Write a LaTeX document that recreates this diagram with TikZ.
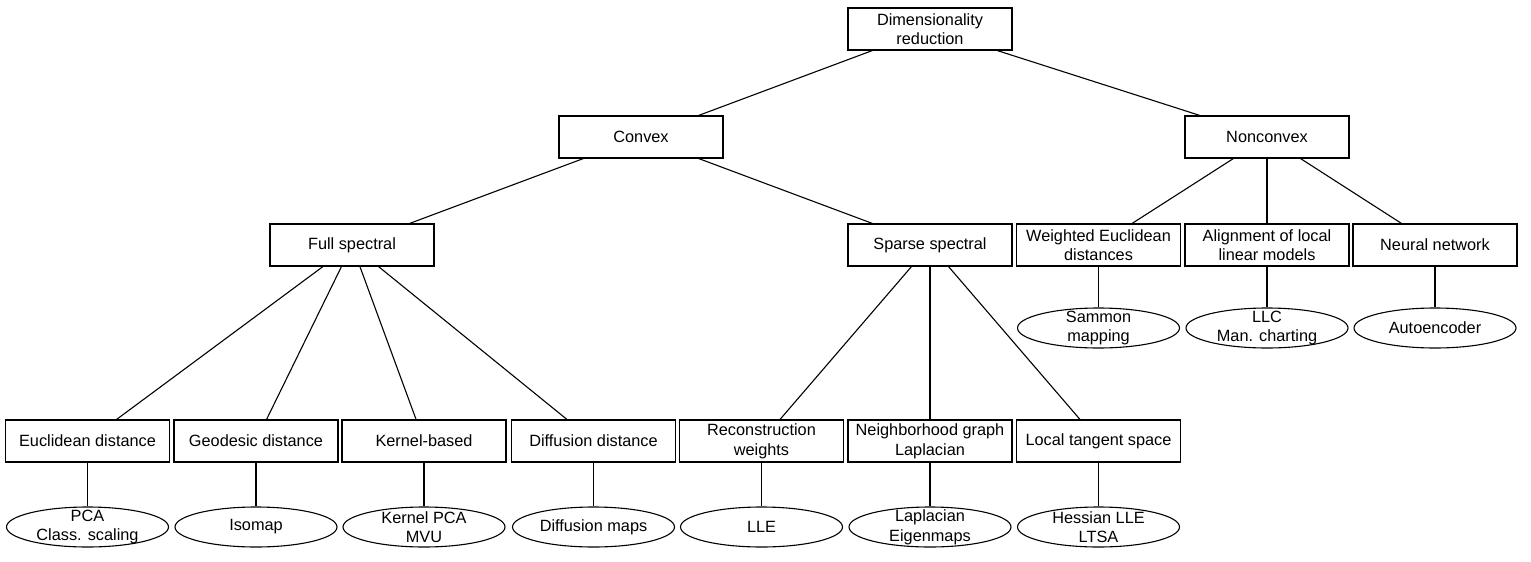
\documentclass[tikz,border=0pt]{standalone}
\usepackage{fontspec}
\setmainfont{Liberation Sans}
\usetikzlibrary{shapes.geometric}
\begin{document}
\begin{tikzpicture}[x=1pt,y=-1pt,
  txt/.style={font=\fontsize{16.3}{19.6}\selectfont},
  box/.style={draw, line width=1.1pt, minimum width=164pt, minimum height=42pt, inner sep=0pt, align=center, txt},
  leaf/.style={draw, ellipse, line width=1.1pt, minimum width=162pt, minimum height=40pt, inner sep=0pt},
  leaftext/.style={align=center, inner sep=0pt, txt},
  edge/.style={line width=1.1pt}]
\useasboundingbox (0,0) rectangle (1531,562);
% level 0-2
\node[box] (root) at (930,29) {Dimensionality\\reduction};
\node[box] (convex) at (641,137) {Convex};
\node[box] (nonconvex) at (1267,137) {Nonconvex};
\node[box] (full) at (352,245) {Full spectral};
\node[box] (sparse) at (930,245) {Sparse spectral};
\node[box] (weighted) at (1098.5,245) {Weighted Euclidean\\distances};
\node[box] (align) at (1267,245) {Alignment of local\\linear models};
\node[box] (neural) at (1435,245) {Neural network};
% level 3
\node[box] (euc) at (87.5,441) {Euclidean distance};
\node[box] (geo) at (256,441) {Geodesic distance};
\node[box] (kern) at (424,441) {Kernel-based};
\node[box] (diff) at (593.5,441) {Diffusion distance};
\node[box] (recon) at (761.5,441) {Reconstruction\\weights};
\node[box] (neigh) at (930,441) {Neighborhood graph\\Laplacian};
\node[box] (local) at (1098.5,441) {Local tangent space};
% leaves (nonconvex)
\node[leaf] (sammon) at (1098.5,328) {};
\node[leaftext] (sammont) at (sammon) {Sammon\\mapping};
\node[leaf] (llc) at (1267,328) {};
\node[leaftext] (llct) at (llc) {LLC\\Man. charting};
\node[leaf] (auto) at (1435,328) {};
\node[leaftext] (autot) at (auto) {Autoencoder};
% leaves (bottom)
\node[leaf] (pca) at (87.5,527) {};
\node[leaftext] (pcat) at (pca) {PCA\\Class. scaling};
\node[leaf] (iso) at (256,527) {};
\node[leaftext] (isot) at (iso) {Isomap};
\node[leaf] (kpca) at (424,527) {};
\node[leaftext] (kpcat) at (kpca) {Kernel PCA\\MVU};
\node[leaf] (dmap) at (593.5,527) {};
\node[leaftext] (dmapt) at (dmap) {Diffusion maps};
\node[leaf] (lle) at (761.5,527) {};
\node[leaftext] (llet) at (lle) {LLE};
\node[leaf] (lap) at (930,527) {};
\node[leaftext] (lapt) at (lap) {Laplacian\\Eigenmaps};
\node[leaf] (hlle) at (1098.5,527) {};
\node[leaftext] (hllet) at (hlle) {Hessian LLE\\LTSA};
% edges
\draw[edge] (root) -- (convex);
\draw[edge] (root) -- (nonconvex);
\draw[edge] (convex) -- (full);
\draw[edge] (convex) -- (sparse);
\draw[edge] (nonconvex) -- (weighted);
\draw[edge] (nonconvex) -- (align);
\draw[edge] (nonconvex) -- (neural);
\draw[edge] (full) -- (euc);
\draw[edge] (full) -- (geo);
\draw[edge] (full) -- (kern);
\draw[edge] (full) -- (diff);
\draw[edge] (sparse) -- (recon);
\draw[edge] (sparse) -- (neigh);
\draw[edge] (sparse) -- (local);
\draw[edge] (weighted) -- (sammon);
\draw[edge] (align) -- (llc);
\draw[edge] (neural) -- (auto);
\draw[edge] (euc) -- (pca);
\draw[edge] (geo) -- (iso);
\draw[edge] (kern) -- (kpca);
\draw[edge] (diff) -- (dmap);
\draw[edge] (recon) -- (lle);
\draw[edge] (neigh) -- (lap);
\draw[edge] (local) -- (hlle);
\end{tikzpicture}
\end{document}
